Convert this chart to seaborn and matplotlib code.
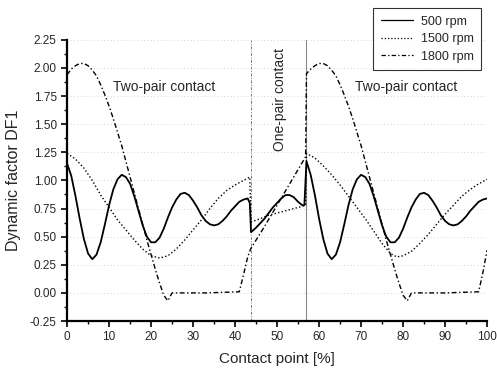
"""Dynamic factor DF1 along the path of contact for three speeds."""
import matplotlib
matplotlib.use("Agg")
import matplotlib.pyplot as plt
import numpy as np
import pandas as pd
import seaborn as sns
from matplotlib.ticker import MultipleLocator

# 500 rpm (solid)
x_500 = [0, 1, 2, 3, 4, 5, 6, 7, 8, 9, 10, 11, 12, 13, 14, 15, 16, 17, 18, 19, 20,
         21, 22, 23, 24, 25, 26, 27, 28, 29, 30, 31, 32, 33, 34, 35, 36, 37, 38, 39,
         40, 41, 42, 43, 43.5, 43.8, 45, 46, 47, 48, 49, 50, 51, 52, 53, 54, 55, 56,
         56.5, 57, 58, 59, 60, 61, 62, 63, 64, 65, 66, 67, 68, 69, 70, 71, 72, 73, 74,
         75, 76, 77, 78, 79, 80, 81, 82, 83, 84, 85, 86, 87, 88, 89, 90, 91, 92, 93,
         94, 95, 96, 97, 98, 99, 100]
y_500 = [1.15, 1.04, 0.86, 0.66, 0.48, 0.35, 0.30, 0.34, 0.45, 0.61, 0.78, 0.92, 1.01,
         1.05, 1.03, 0.97, 0.86, 0.73, 0.60, 0.50, 0.45, 0.45, 0.49, 0.57, 0.67, 0.76,
         0.83, 0.88, 0.89, 0.87, 0.82, 0.76, 0.69, 0.64, 0.61, 0.60, 0.61, 0.64, 0.68,
         0.73, 0.77, 0.81, 0.83, 0.84, 0.80, 0.54, 0.58, 0.62, 0.66, 0.71, 0.76, 0.80,
         0.84, 0.87, 0.87, 0.85, 0.81, 0.78, 0.78, 1.17, 1.05, 0.87, 0.66, 0.48, 0.35,
         0.30, 0.34, 0.45, 0.61, 0.78, 0.92, 1.01, 1.05, 1.03, 0.97, 0.86, 0.73, 0.60,
         0.50, 0.45, 0.45, 0.49, 0.57, 0.67, 0.76, 0.83, 0.88, 0.89, 0.87, 0.82, 0.76,
         0.69, 0.64, 0.61, 0.60, 0.61, 0.64, 0.68, 0.73, 0.77, 0.81, 0.83, 0.84]

# 1500 rpm (dotted)
x_1500 = [0, 2, 4, 6, 8, 10, 12, 14, 16, 18, 20, 22, 24, 26, 28, 30, 32, 34, 36, 38,
          40, 42, 43.5, 43.8, 46, 48, 50, 52, 54, 56, 56.8, 57, 59, 61, 63, 65, 67,
          69, 71, 73, 75, 77, 78.5, 80, 82, 84, 86, 88, 90, 92, 94, 96, 98, 100]
y_1500 = [1.24, 1.19, 1.11, 1.00, 0.87, 0.76, 0.65, 0.56, 0.47, 0.39, 0.33, 0.31,
          0.33, 0.39, 0.47, 0.56, 0.65, 0.75, 0.84, 0.91, 0.96, 1.00, 1.03, 0.63,
          0.66, 0.69, 0.71, 0.73, 0.75, 0.77, 0.78, 1.24, 1.20, 1.13, 1.05, 0.96,
          0.86, 0.76, 0.66, 0.55, 0.44, 0.35, 0.32, 0.33, 0.37, 0.44, 0.52, 0.61,
          0.70, 0.78, 0.86, 0.92, 0.97, 1.01]

# 1800 rpm (dash-dot)
x_1800 = [0, 1, 2, 3, 4, 5, 6, 7, 8, 9, 10, 11, 12, 13, 14, 15, 16, 17, 18, 19, 20,
          21, 22, 23, 24, 25, 33, 41, 42, 43, 43.7, 44, 47, 50, 53, 56, 56.8, 57, 58,
          59, 60, 61, 62, 63, 64, 65, 66, 67, 68, 69, 70, 71, 72, 73, 74, 75, 76, 77,
          78, 79, 80, 81, 82, 90, 98, 99, 100]
y_1800 = [1.94, 1.99, 2.02, 2.04, 2.04, 2.02, 1.98, 1.93, 1.85, 1.76, 1.66, 1.55,
          1.43, 1.31, 1.17, 1.03, 0.89, 0.75, 0.61, 0.47, 0.34, 0.21, 0.09, -0.02,
          -0.07, 0.00, 0.00, 0.01, 0.16, 0.32, 0.39, 0.41, 0.59, 0.78, 0.97, 1.16,
          1.21, 1.95, 1.99, 2.02, 2.04, 2.04, 2.02, 1.98, 1.93, 1.85, 1.76, 1.66,
          1.55, 1.43, 1.31, 1.17, 1.03, 0.89, 0.75, 0.61, 0.47, 0.34, 0.21, 0.09,
          -0.02, -0.07, 0.00, 0.00, 0.01, 0.18, 0.38]

series_labels = ["500 rpm", "1500 rpm", "1800 rpm"]
contact_limits = [43.7, 56.8]

sns.set_theme(style="white")
plt.rcParams["font.family"] = ["Liberation Sans", "DejaVu Sans"]

fig = plt.figure(figsize=(4.97, 3.69), dpi=100)
ax = fig.add_axes([0.135, 0.130, 0.845, 0.762])

styles = [
    dict(linestyle="-", linewidth=1.3),
    dict(linestyle=(0, (1, 1.6)), linewidth=1.0),
    dict(linestyle=(0, (3.5, 1.8, 1, 1.8)), linewidth=1.0),
]
for (xs, ys), lab, st in zip([(x_500, y_500), (x_1500, y_1500), (x_1800, y_1800)],
                             series_labels, styles):
    df = pd.DataFrame({"x": xs, "y": ys})
    sns.lineplot(data=df, x="x", y="y", ax=ax, color="black", label=lab,
                 estimator=None, sort=False, **st)

# contact zone boundaries
ax.axvline(contact_limits[0], color="#777777", lw=0.7, ls=(0, (3, 1.5, 1, 1.5)), zorder=0)
ax.axvline(contact_limits[1], color="#888888", lw=0.8, ls="-", zorder=0)

ax.set_xlim(0, 100)
ax.set_ylim(-0.25, 2.25)
ax.xaxis.set_major_locator(MultipleLocator(10))
ax.xaxis.set_minor_locator(MultipleLocator(5))
ax.yaxis.set_major_locator(MultipleLocator(0.25))
ax.yaxis.set_minor_locator(MultipleLocator(0.125))
ax.yaxis.grid(True, which="major", color="#c8c8c8", lw=0.6, ls=(0, (1, 3)))
ax.xaxis.grid(False)

for side in ["top", "right"]:
    ax.spines[side].set_visible(False)
for side in ["left", "bottom"]:
    ax.spines[side].set_color("black")
    ax.spines[side].set_linewidth(1.6)
ax.tick_params(which="major", direction="out", length=4, width=1.2, labelsize=8.5,
               color="black", left=True, bottom=True)
ax.tick_params(which="minor", direction="out", length=2, width=1.0, color="black",
               left=True, bottom=True)
ax.set_yticklabels([f"{v:.2f}" for v in ax.get_yticks()])

ax.set_xlabel("Contact point [%]", fontsize=11, labelpad=6)
ax.set_ylabel("Dynamic factor DF1", fontsize=11.5, labelpad=6)

ax.text(11, 1.83, "Two-pair contact", fontsize=10, va="center", ha="left")
ax.text(68.6, 1.83, "Two-pair contact", fontsize=10, va="center", ha="left")
ax.text(50.7, 1.72, "One-pair contact", fontsize=10, va="center", ha="center",
        rotation=90)

leg = ax.legend(loc="upper right", bbox_to_anchor=(0.968, 0.978),
                bbox_transform=fig.transFigure, frameon=True, fancybox=False,
                edgecolor="black", fontsize=9, handlelength=2.6, borderaxespad=0,
                borderpad=0.6, labelspacing=0.45, handletextpad=0.6)
leg.get_frame().set_linewidth(0.8)
for h in leg.get_lines():
    h.set_linewidth(0.9)

fig.savefig("out.png", dpi=100, facecolor="white")
